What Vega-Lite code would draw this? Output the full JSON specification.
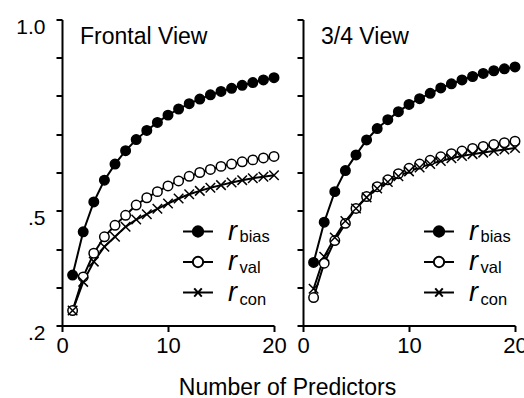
{
  "$schema": "https://vega.github.io/schema/vega-lite/v6.json",
  "background": "white",
  "padding": {"left": 15, "top": 16.5, "right": 2, "bottom": 2},
  "config": {
    "view": {"stroke": null},
    "font": "Liberation Sans",
    "axis": {"grid": false, "domainColor": "black", "domainWidth": 2, "tickColor": "black", "tickWidth": 2, "tickSize": 6, "labelColor": "black", "labelFont": "Liberation Sans", "labelFlush": false, "labelOverlap": false, "title": null},
    "legend": {"orient": "none", "padding": 0, "labelFont": "Liberation Sans", "labelColor": "black", "titleFont": "Liberation Sans", "titleColor": "black"},
    "title": {"font": "Liberation Sans", "fontWeight": "normal", "color": "black"}
  },
  "datasets": {
    "d": [
      {"panel": "F", "series": "bias", "x": 1, "r": 0.332}, {"panel": "F", "series": "bias", "x": 2, "r": 0.445}, {"panel": "F", "series": "bias", "x": 3, "r": 0.523}, {"panel": "F", "series": "bias", "x": 4, "r": 0.580}, {"panel": "F", "series": "bias", "x": 5, "r": 0.622}, {"panel": "F", "series": "bias", "x": 6, "r": 0.657}, {"panel": "F", "series": "bias", "x": 7, "r": 0.686}, {"panel": "F", "series": "bias", "x": 8, "r": 0.710}, {"panel": "F", "series": "bias", "x": 9, "r": 0.731}, {"panel": "F", "series": "bias", "x": 10, "r": 0.750},
      {"panel": "F", "series": "bias", "x": 11, "r": 0.766}, {"panel": "F", "series": "bias", "x": 12, "r": 0.780}, {"panel": "F", "series": "bias", "x": 13, "r": 0.792}, {"panel": "F", "series": "bias", "x": 14, "r": 0.803}, {"panel": "F", "series": "bias", "x": 15, "r": 0.812}, {"panel": "F", "series": "bias", "x": 16, "r": 0.820}, {"panel": "F", "series": "bias", "x": 17, "r": 0.828}, {"panel": "F", "series": "bias", "x": 18, "r": 0.835}, {"panel": "F", "series": "bias", "x": 19, "r": 0.842}, {"panel": "F", "series": "bias", "x": 20, "r": 0.848},
      {"panel": "F", "series": "val", "x": 1, "r": 0.239}, {"panel": "F", "series": "val", "x": 2, "r": 0.327}, {"panel": "F", "series": "val", "x": 3, "r": 0.389}, {"panel": "F", "series": "val", "x": 4, "r": 0.432}, {"panel": "F", "series": "val", "x": 5, "r": 0.462}, {"panel": "F", "series": "val", "x": 6, "r": 0.488}, {"panel": "F", "series": "val", "x": 7, "r": 0.515}, {"panel": "F", "series": "val", "x": 8, "r": 0.534}, {"panel": "F", "series": "val", "x": 9, "r": 0.550}, {"panel": "F", "series": "val", "x": 10, "r": 0.565},
      {"panel": "F", "series": "val", "x": 11, "r": 0.578}, {"panel": "F", "series": "val", "x": 12, "r": 0.590}, {"panel": "F", "series": "val", "x": 13, "r": 0.600}, {"panel": "F", "series": "val", "x": 14, "r": 0.608}, {"panel": "F", "series": "val", "x": 15, "r": 0.616}, {"panel": "F", "series": "val", "x": 16, "r": 0.622}, {"panel": "F", "series": "val", "x": 17, "r": 0.628}, {"panel": "F", "series": "val", "x": 18, "r": 0.633}, {"panel": "F", "series": "val", "x": 19, "r": 0.638}, {"panel": "F", "series": "val", "x": 20, "r": 0.642},
      {"panel": "F", "series": "con", "x": 1, "r": 0.239}, {"panel": "F", "series": "con", "x": 2, "r": 0.314}, {"panel": "F", "series": "con", "x": 3, "r": 0.367}, {"panel": "F", "series": "con", "x": 4, "r": 0.406}, {"panel": "F", "series": "con", "x": 5, "r": 0.432}, {"panel": "F", "series": "con", "x": 6, "r": 0.458}, {"panel": "F", "series": "con", "x": 7, "r": 0.477}, {"panel": "F", "series": "con", "x": 8, "r": 0.491}, {"panel": "F", "series": "con", "x": 9, "r": 0.505}, {"panel": "F", "series": "con", "x": 10, "r": 0.519},
      {"panel": "F", "series": "con", "x": 11, "r": 0.532}, {"panel": "F", "series": "con", "x": 12, "r": 0.543}, {"panel": "F", "series": "con", "x": 13, "r": 0.552}, {"panel": "F", "series": "con", "x": 14, "r": 0.560}, {"panel": "F", "series": "con", "x": 15, "r": 0.567}, {"panel": "F", "series": "con", "x": 16, "r": 0.574}, {"panel": "F", "series": "con", "x": 17, "r": 0.580}, {"panel": "F", "series": "con", "x": 18, "r": 0.585}, {"panel": "F", "series": "con", "x": 19, "r": 0.589}, {"panel": "F", "series": "con", "x": 20, "r": 0.593},
      {"panel": "T", "series": "bias", "x": 1, "r": 0.365}, {"panel": "T", "series": "bias", "x": 2, "r": 0.470}, {"panel": "T", "series": "bias", "x": 3, "r": 0.550}, {"panel": "T", "series": "bias", "x": 4, "r": 0.605}, {"panel": "T", "series": "bias", "x": 5, "r": 0.646}, {"panel": "T", "series": "bias", "x": 6, "r": 0.685}, {"panel": "T", "series": "bias", "x": 7, "r": 0.715}, {"panel": "T", "series": "bias", "x": 8, "r": 0.738}, {"panel": "T", "series": "bias", "x": 9, "r": 0.759}, {"panel": "T", "series": "bias", "x": 10, "r": 0.778},
      {"panel": "T", "series": "bias", "x": 11, "r": 0.793}, {"panel": "T", "series": "bias", "x": 12, "r": 0.807}, {"panel": "T", "series": "bias", "x": 13, "r": 0.821}, {"panel": "T", "series": "bias", "x": 14, "r": 0.832}, {"panel": "T", "series": "bias", "x": 15, "r": 0.842}, {"panel": "T", "series": "bias", "x": 16, "r": 0.851}, {"panel": "T", "series": "bias", "x": 17, "r": 0.859}, {"panel": "T", "series": "bias", "x": 18, "r": 0.866}, {"panel": "T", "series": "bias", "x": 19, "r": 0.871}, {"panel": "T", "series": "bias", "x": 20, "r": 0.876},
      {"panel": "T", "series": "val", "x": 1, "r": 0.273}, {"panel": "T", "series": "val", "x": 2, "r": 0.363}, {"panel": "T", "series": "val", "x": 3, "r": 0.422}, {"panel": "T", "series": "val", "x": 4, "r": 0.467}, {"panel": "T", "series": "val", "x": 5, "r": 0.506}, {"panel": "T", "series": "val", "x": 6, "r": 0.537}, {"panel": "T", "series": "val", "x": 7, "r": 0.563}, {"panel": "T", "series": "val", "x": 8, "r": 0.581}, {"panel": "T", "series": "val", "x": 9, "r": 0.597}, {"panel": "T", "series": "val", "x": 10, "r": 0.611},
      {"panel": "T", "series": "val", "x": 11, "r": 0.622}, {"panel": "T", "series": "val", "x": 12, "r": 0.632}, {"panel": "T", "series": "val", "x": 13, "r": 0.641}, {"panel": "T", "series": "val", "x": 14, "r": 0.649}, {"panel": "T", "series": "val", "x": 15, "r": 0.656}, {"panel": "T", "series": "val", "x": 16, "r": 0.663}, {"panel": "T", "series": "val", "x": 17, "r": 0.668}, {"panel": "T", "series": "val", "x": 18, "r": 0.673}, {"panel": "T", "series": "val", "x": 19, "r": 0.678}, {"panel": "T", "series": "val", "x": 20, "r": 0.682},
      {"panel": "T", "series": "con", "x": 1, "r": 0.296}, {"panel": "T", "series": "con", "x": 2, "r": 0.380}, {"panel": "T", "series": "con", "x": 3, "r": 0.430}, {"panel": "T", "series": "con", "x": 4, "r": 0.473}, {"panel": "T", "series": "con", "x": 5, "r": 0.506}, {"panel": "T", "series": "con", "x": 6, "r": 0.535}, {"panel": "T", "series": "con", "x": 7, "r": 0.558}, {"panel": "T", "series": "con", "x": 8, "r": 0.575}, {"panel": "T", "series": "con", "x": 9, "r": 0.590}, {"panel": "T", "series": "con", "x": 10, "r": 0.603},
      {"panel": "T", "series": "con", "x": 11, "r": 0.613}, {"panel": "T", "series": "con", "x": 12, "r": 0.622}, {"panel": "T", "series": "con", "x": 13, "r": 0.630}, {"panel": "T", "series": "con", "x": 14, "r": 0.637}, {"panel": "T", "series": "con", "x": 15, "r": 0.643}, {"panel": "T", "series": "con", "x": 16, "r": 0.648}, {"panel": "T", "series": "con", "x": 17, "r": 0.652}, {"panel": "T", "series": "con", "x": 18, "r": 0.656}, {"panel": "T", "series": "con", "x": 19, "r": 0.660}, {"panel": "T", "series": "con", "x": 20, "r": 0.664}
    ]
  },
  "title": {"text": "Number of Predictors", "orient": "bottom", "anchor": "middle", "fontSize": 23, "offset": 20, "dx": 16},
  "spacing": 9,
  "hconcat": [
    {
      "width": 212, "height": 306,
      "data": {"name": "d"},
      "transform": [{"filter": "datum.panel == 'F'"}],
      "encoding": {
        "x": {"field": "x", "type": "quantitative", "scale": {"domain": [0, 20], "nice": false}, "axis": {"values": [0, 10, 20], "labelFontSize": 22, "labelPadding": 4, "encode": {"ticks": {"update": {"y2": {"value": -6}}}, "labels": {"update": {"dx": {"value": -3}}}}}},
        "y": {"field": "r", "type": "quantitative", "scale": {"domain": [0.2, 1], "nice": false, "zero": false}, "axis": {"values": [0.2, 0.3, 0.4, 0.5, 0.6, 0.7, 0.8, 0.9, 1], "labelExpr": "datum.value == 1 ? '1.0' : datum.value == 0.5 ? '.5' : datum.value == 0.2 ? '.2' : ''", "labelFontSize": 21, "labelPadding": 11, "labelBaseline": "top", "labelOffset": -3, "encode": {"ticks": {"update": {"x2": {"value": 6}}}}}}
      },
      "layer": [
        {"mark": {"type": "line", "color": "black", "strokeWidth": 2}, "encoding": {"detail": {"field": "series"}}},
        {"mark": {"type": "point", "filled": true, "stroke": "black", "strokeWidth": 1.5, "opacity": 1, "size": 90},
         "encoding": {
           "shape": {"field": "series", "type": "nominal", "scale": {"domain": ["bias", "val", "con"], "range": ["circle", "circle", "M-1,-1L1,1M-1,1L1,-1"]}, "legend": null},
           "fill": {"field": "series", "type": "nominal", "scale": {"domain": ["bias", "val", "con"], "range": ["black", "white", "black"]}, "legend": null}
         }},
        {"mark": {"type": "point", "filled": true, "opacity": 0},
         "encoding": {
           "shape": {"field": "series", "type": "nominal", "scale": {"domain": ["bias", "val", "con"], "range": ["M-1.07,0H1.07M0.37,0A0.37,0.37,0,1,1,-0.37,0A0.37,0.37,0,1,1,0.37,0Z", "M-1.07,0H-0.37M0.37,0H1.07M0.37,0A0.37,0.37,0,1,1,-0.37,0A0.37,0.37,0,1,1,0.37,0Z", "M-1.07,0H1.07M-0.27,-0.3L0.27,0.3M-0.27,0.3L0.27,-0.3"]},
             "legend": {"legendX": 121, "legendY": 197, "title": null, "symbolSize": 784, "symbolOpacity": 1, "labelExpr": "'r'", "labelFontSize": 27, "labelFontStyle": "italic", "labelOffset": 15, "rowPadding": 2.5, "encode": {"symbols": {"update": {"stroke": {"value": "black"}, "strokeWidth": {"value": 2}, "opacity": {"value": 1}}}}}},
           "fill": {"field": "series", "type": "nominal", "scale": {"domain": ["bias", "val", "con"], "range": ["black", "white", "black"]},
             "legend": {"legendX": 121, "legendY": 197, "title": null, "symbolSize": 784, "symbolOpacity": 1, "labelExpr": "'r'", "labelFontSize": 27, "labelFontStyle": "italic", "labelOffset": 15, "rowPadding": 2.5, "encode": {"symbols": {"update": {"stroke": {"value": "black"}, "strokeWidth": {"value": 2}, "opacity": {"value": 1}}}}}},
           "stroke": {"field": "series", "type": "nominal", "sort": ["bias", "val", "con"], "scale": {"range": ["black", "black", "black"]},
             "legend": {"legendX": 18, "legendY": 6, "title": "Frontal View", "titleFontSize": 23, "titleFontWeight": "normal", "titleLimit": 400, "titleBaseline": "top", "titleAlign": "left", "titleAnchor": "start", "titlePadding": 180, "symbolSize": 1, "symbolType": "circle", "symbolStrokeWidth": 0, "symbolOpacity": 0, "labelFontSize": 16.5, "labelOffset": 143, "rowPadding": 14.5, "encode": {"symbols": {"update": {"opacity": {"value": 0}, "strokeOpacity": {"value": 0}, "fillOpacity": {"value": 0}}}}}}
         }}
      ],
      "resolve": {"scale": {"shape": "independent", "fill": "independent", "stroke": "independent"}}
    },
    {
      "width": 212, "height": 306,
      "data": {"name": "d"},
      "transform": [{"filter": "datum.panel == 'T'"}],
      "encoding": {
        "x": {"field": "x", "type": "quantitative", "scale": {"domain": [0, 20], "nice": false}, "axis": {"values": [0, 10, 20], "labelFontSize": 22, "labelPadding": 4, "encode": {"ticks": {"update": {"y2": {"value": -6}}}, "labels": {"update": {"dx": {"value": -6}}}}}},
        "y": {"field": "r", "type": "quantitative", "scale": {"domain": [0.2, 1], "nice": false, "zero": false}, "axis": {"values": [0.2, 0.3, 0.4, 0.5, 0.6, 0.7, 0.8, 0.9, 1], "labels": false, "encode": {"ticks": {"update": {"x2": {"value": 6}}}}}}
      },
      "layer": [
        {"mark": {"type": "line", "color": "black", "strokeWidth": 2}, "encoding": {"detail": {"field": "series"}}},
        {"mark": {"type": "point", "filled": true, "stroke": "black", "strokeWidth": 1.5, "opacity": 1, "size": 90},
         "encoding": {
           "shape": {"field": "series", "type": "nominal", "scale": {"domain": ["bias", "val", "con"], "range": ["circle", "circle", "M-1,-1L1,1M-1,1L1,-1"]}, "legend": null},
           "fill": {"field": "series", "type": "nominal", "scale": {"domain": ["bias", "val", "con"], "range": ["black", "white", "black"]}, "legend": null}
         }},
        {"mark": {"type": "point", "filled": true, "opacity": 0},
         "encoding": {
           "shape": {"field": "series", "type": "nominal", "scale": {"domain": ["bias", "val", "con"], "range": ["M-1.07,0H1.07M0.37,0A0.37,0.37,0,1,1,-0.37,0A0.37,0.37,0,1,1,0.37,0Z", "M-1.07,0H-0.37M0.37,0H1.07M0.37,0A0.37,0.37,0,1,1,-0.37,0A0.37,0.37,0,1,1,0.37,0Z", "M-1.07,0H1.07M-0.27,-0.3L0.27,0.3M-0.27,0.3L0.27,-0.3"]},
             "legend": {"legendX": 121, "legendY": 197, "title": null, "symbolSize": 784, "symbolOpacity": 1, "labelExpr": "'r'", "labelFontSize": 27, "labelFontStyle": "italic", "labelOffset": 15, "rowPadding": 2.5, "encode": {"symbols": {"update": {"stroke": {"value": "black"}, "strokeWidth": {"value": 2}, "opacity": {"value": 1}}}}}},
           "fill": {"field": "series", "type": "nominal", "scale": {"domain": ["bias", "val", "con"], "range": ["black", "white", "black"]},
             "legend": {"legendX": 121, "legendY": 197, "title": null, "symbolSize": 784, "symbolOpacity": 1, "labelExpr": "'r'", "labelFontSize": 27, "labelFontStyle": "italic", "labelOffset": 15, "rowPadding": 2.5, "encode": {"symbols": {"update": {"stroke": {"value": "black"}, "strokeWidth": {"value": 2}, "opacity": {"value": 1}}}}}},
           "stroke": {"field": "series", "type": "nominal", "sort": ["bias", "val", "con"], "scale": {"range": ["black", "black", "black"]},
             "legend": {"legendX": 18, "legendY": 6, "title": "3/4 View", "titleFontSize": 23, "titleFontWeight": "normal", "titleLimit": 400, "titleBaseline": "top", "titleAlign": "left", "titleAnchor": "start", "titlePadding": 180, "symbolSize": 1, "symbolType": "circle", "symbolStrokeWidth": 0, "symbolOpacity": 0, "labelFontSize": 16.5, "labelOffset": 143, "rowPadding": 14.5, "encode": {"symbols": {"update": {"opacity": {"value": 0}, "strokeOpacity": {"value": 0}, "fillOpacity": {"value": 0}}}}}}
         }}
      ],
      "resolve": {"scale": {"shape": "independent", "fill": "independent", "stroke": "independent"}}
    }
  ],
  "resolve": {"scale": {"shape": "independent", "fill": "independent", "stroke": "independent"}}
}
